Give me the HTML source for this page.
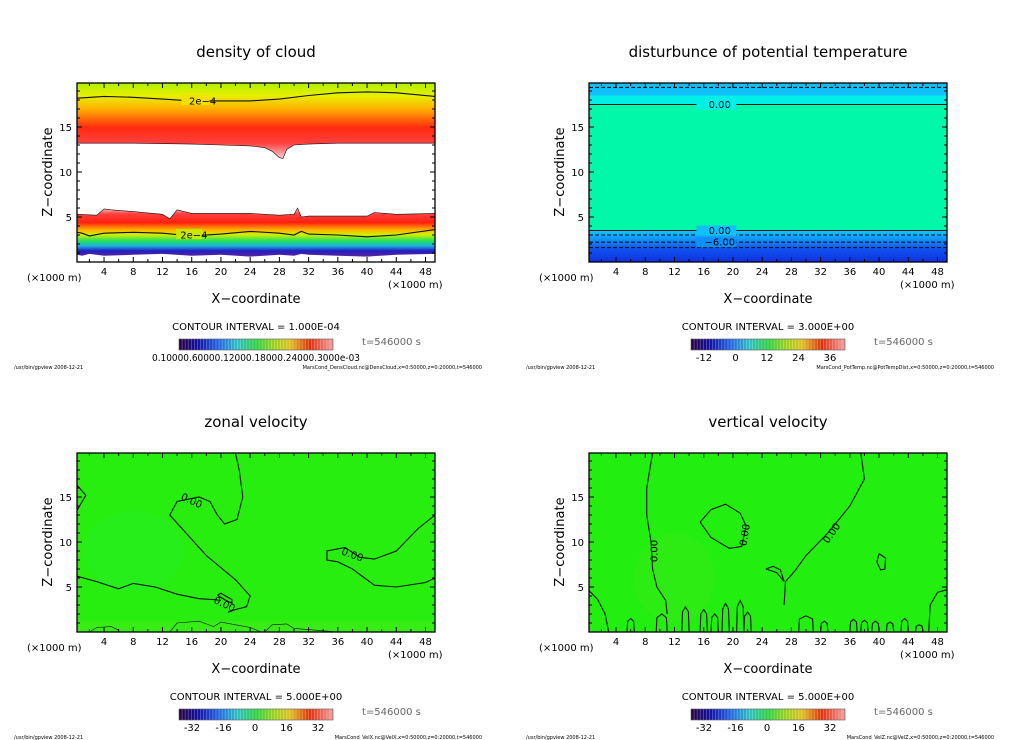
<!DOCTYPE html>
<html><head><meta charset="utf-8"><style>
html,body{margin:0;padding:0;background:#fff;}
svg{display:block;font-family:"DejaVu Sans","Liberation Sans",sans-serif;}
</style></head><body>
<svg id="fig" width="1024" height="740" viewBox="0 0 1024 740" xmlns="http://www.w3.org/2000/svg">
<defs>
<linearGradient id="cb" x1="0" x2="1" y1="0" y2="0">
<stop offset="0" stop-color="#2a0040"/><stop offset="0.12" stop-color="#1010a0"/><stop offset="0.25" stop-color="#2060e0"/><stop offset="0.38" stop-color="#30c0c0"/><stop offset="0.5" stop-color="#30d040"/><stop offset="0.62" stop-color="#a0d020"/><stop offset="0.72" stop-color="#e0c020"/><stop offset="0.85" stop-color="#e03010"/><stop offset="1" stop-color="#f0a0a0"/>
</linearGradient>
<linearGradient id="cloudTop" x1="0" x2="0" y1="0" y2="1">
<stop offset="0" stop-color="#a8f000"/><stop offset="0.18" stop-color="#e8f000"/><stop offset="0.35" stop-color="#ffb000"/><stop offset="0.6" stop-color="#ff2a10"/><stop offset="0.8" stop-color="#ff4040"/><stop offset="1" stop-color="#ffd0d0"/>
</linearGradient>
<linearGradient id="cloudBot" x1="0" x2="0" y1="0" y2="1">
<stop offset="0" stop-color="#ffd0d0"/><stop offset="0.12" stop-color="#ff4040"/><stop offset="0.3" stop-color="#ff2010"/><stop offset="0.45" stop-color="#ffb000"/><stop offset="0.55" stop-color="#d0f000"/><stop offset="0.68" stop-color="#20e060"/><stop offset="0.78" stop-color="#20b0e0"/><stop offset="0.88" stop-color="#2020c0"/><stop offset="1" stop-color="#6020a0"/>
</linearGradient>
<linearGradient id="ptBot" x1="0" x2="0" y1="0" y2="1">
<stop offset="0" stop-color="#10c8ff"/><stop offset="0.3" stop-color="#1090ff"/><stop offset="0.6" stop-color="#1050f0"/><stop offset="1" stop-color="#1030e0"/>
</linearGradient>
</defs>
</svg>
<script>
// ---- data ----
const xTicks = [4,8,12,16,20,24,28,32,36,40,44,48];
const zTicks = [5,10,15];
const cloudTopLineX = [0.3,4,8,12,16,20,24,28,32,36,40,44,49.3];
const cloudTopLineZ = [18.2,18.4,18.3,18.1,17.9,17.9,17.9,18.1,18.5,18.8,18.9,18.8,18.4];
const cloudUpperBaseX = [0.3,8,16,20,24,26,27,28,28.5,29,30,32,36,44,49.3];
const cloudUpperBaseZ = [13.2,13.2,13.1,13.0,12.9,12.7,12.3,11.6,11.5,12.5,13.0,13.1,13.2,13.2,13.2];
const cloudLowTopX = [0.3,3,4,5,8,12,13,14,16,20,24,28,30,30.5,31,32,36,40,41,44,49.3];
const cloudLowTopZ = [5.3,5.2,5.9,5.8,5.6,5.3,4.8,5.8,5.4,5.4,5.4,5.2,5.3,6.0,5.0,5.1,5.1,5.1,5.5,5.3,5.4];
const cloudLowLineX = [0.3,1,2,4,8,12,16,20,24,28,30,31,32,36,40,44,49.3];
const cloudLowLineZ = [3.3,3.2,2.9,3.2,3.3,3.2,2.9,3.1,3.4,3.2,3.0,3.4,3.1,3.0,2.8,3.0,3.6];
const cloudLowBaseZ = [0.8,0.7,0.9,0.7,0.8,0.9,0.7,0.8,0.6,0.8,0.7,0.9,0.8,0.7,0.6,0.8,0.9];
const ptLines = [19.4,17.5,3.5,3.0,2.2,1.6];
const ptDashed = [true,false,false,true,true,true];
const uLine1 = [[0.3,16.3],[1.5,15.2],[0.3,13.5]];
const uLine2 = [[22,19.9],[22.5,18],[23,15],[22.2,12.5],[20.5,12],[19.5,13],[18.5,14.5],[17,15],[14,14.5],[13,13],[15,11.2],[18,8.5],[22,5.8],[24,4],[23.5,2.8],[22,2.5],[21,2.2]];
const uLine3 = [[0.3,6.2],[3,5.6],[6,4.8],[8,5.4],[11,5],[14,4.2],[17,3.7],[19,3.6],[20,3.5]];
const uLine4 = [[49.3,19.9],[49.3,17]];
const uLine5 = [[49.3,13],[47,11.5],[44,9],[41,8.1],[39,8.3],[37,9.4],[34.5,9],[34.5,8],[36,7.8],[38,7],[41,5.2],[44,5],[48,5.5],[49.3,6]];
const uBlob = [[19.5,4.1],[20.5,3.6],[21.5,3.2],[21.5,3.6],[20,4.3],[19.5,4.1]];
const uSurf = [[2,0],[3,0.5],[5,0.6],[6,0.2]];
const uSurf2 = [[13,0],[14,1],[17,1.2],[19,0.6],[20,1.1],[22,0.8],[24,0.5],[25.5,0]];
const uSurf3 = [[26,0],[27,0.8],[29,0.9],[30,0.4],[33,0.2],[36,0]];
const wLine1 = [[9,19.9],[8.2,16],[8.2,13],[8.8,10],[9,7],[9.6,5],[10.8,3.5],[11,2]];
const wLine2 = [[37.5,19.9],[38,17],[36,14],[33,11],[30,8.5],[28.5,6.8],[27.2,5.6],[27,3]];
const wLoop1 = [[15.5,12.2],[17,13.6],[19,14.2],[21,13.2],[21.8,11.8],[21.2,9.5],[19.5,9.3],[17,10.5],[15.5,12.2]];
const wLoop2 = [[24.5,7],[26,6.6],[27,5.6],[26.5,6.9],[25.5,7.3],[24.5,7]];
const wLoop3 = [[40,8.7],[40.9,8.2],[40.8,7],[40.2,6.9],[39.7,7.8],[40,8.7]];
const wLine3 = [[0.3,4.6],[1.5,3.6],[2.5,2],[3,0]];
const wLine4 = [[49.3,4.7],[48,4.4],[47,3],[46.8,0]];
const wBumps = [[5.5,6.5,1.5],[9.5,11,2],[13,14,2.8],[15.5,16.5,2.5],[17,18,2],[18.5,19.5,3.2],[20.5,21.5,3.5],[21.5,22.5,2.2],[29,31,1.8],[32,33,1.2],[36,37,1.4],[37.5,38.5,1.3],[39,40,1.2],[41,42,1.1],[43,44,1.5],[45,46,0.8]];
const cbLabelsTR = ["-12","0","12","24","36"];
const cbLabelsV = ["-32","-16","0","16","32"];

// ---- helpers ----
const NS = "http://www.w3.org/2000/svg";
const svg = document.getElementById('fig');
const X0 = 0.3, X1 = 49.3, PX0 = 77, PX1 = 435;
function xs(v, ox){ return ox + PX0 + (v - X0) * (PX1 - PX0) / (X1 - X0); }
function zs(v, oy){ return oy + 262 - v * 9; }
function mk(tag, attrs, parent){ const e = document.createElementNS(NS, tag); for (const k in attrs) e.setAttribute(k, attrs[k]); (parent||svg).appendChild(e); return e; }
function txt(s, x, y, size, anchor, parent){ const t = mk('text', {x:x, y:y, 'font-size':size, 'text-anchor':anchor||'middle', fill:'#000'}, parent); t.textContent = s; return t; }
function lineD(pts, ox, oy){ return pts.map((p,i)=>(i?'L':'M')+xs(p[0],ox).toFixed(1)+','+zs(p[1],oy).toFixed(1)).join(''); }
function zip(a,b){ return a.map((v,i)=>[v,b[i]]); }

function panel(ox, oy, title, name, ci, cbl, file){
  const g = mk('g', {});
  
  
  const clip = mk('clipPath', {id:'clip-'+name}, svg);
  mk('rect', {x:ox+PX0, y:oy+83, width:PX1-PX0, height:179}, clip);
  const field = mk('g', {'clip-path':'url(#clip-'+name+')'}, g);
  
  
  const t = txt(title, ox+256, oy+57, 15, 'middle', g);
  
  
  const xl = txt('X\u2212coordinate', ox+256, oy+303, 13, 'middle', g);
  
  
  const zl = txt('Z\u2212coordinate', 0, 0, 13, 'middle', g);
  zl.setAttribute('transform', 'translate('+(ox+52)+','+(oy+172)+') rotate(-90)');
  
  
  txt('(\u00d71000 m)', ox+27, oy+281, 10, 'start', g);
  txt('(\u00d71000 m)', ox+388, oy+288, 10, 'start', g);
  xTicks.forEach(v=>{ const tl = txt(String(v), xs(v,ox), oy+275, 10, 'middle', g);   });
  zTicks.forEach(v=>{ const tl = txt(String(v), ox+72, zs(v,oy)+4, 10, 'end', g);   });
  const cit = txt('CONTOUR INTERVAL = '+ci, ox+256, oy+330, 10, 'middle', g);
  
  
  const cb = mk('rect', {x:ox+179, y:oy+339, width:154, height:11, fill:'url(#cb)', stroke:'#555', 'stroke-width':0.6}, g);
  
  
  for (let i=1;i<50;i++) mk('line', {x1:ox+179+i*154/50, x2:ox+179+i*154/50, y1:oy+339, y2:oy+350, stroke:'rgba(255,255,255,0.35)', 'stroke-width':0.7}, g);
  cbl.forEach((s,i)=>{ const n=cbl.length; const tl = txt(s, ox+192+i*(126/(n-1)), oy+361, 10, 'middle', g);   });
  const tt = txt('t=546000 s', ox+362, oy+345, 10, 'start', g);
  tt.setAttribute('fill', '#666');
  txt('/usr/bin/gpview   2008-12-21', ox+14, oy+369, 5, 'start', g);
  txt(file, ox+482, oy+369, 5, 'end', g);
  return {g:g, field:field};
}
function frame(p, ox, oy){
  const g = p.g;
  const fr = mk('rect', {x:ox+PX0, y:oy+83, width:PX1-PX0, height:179, fill:'none', stroke:'#000', 'stroke-width':1.3}, g);
  
  
  for (let v=2; v<=48; v+=2){ const L = v%4===0?5:3; const x=xs(v,ox);
    mk('line',{x1:x,x2:x,y1:oy+262,y2:oy+262-L,stroke:'#000'},g); mk('line',{x1:x,x2:x,y1:oy+83,y2:oy+83+L,stroke:'#000'},g); }
  for (let v=1; v<=19; v++){ const L = v%5===0?5:3; const y=zs(v,oy);
    mk('line',{x1:ox+PX0,x2:ox+PX0+L,y1:y,y2:y,stroke:'#000'},g); mk('line',{x1:ox+PX1,x2:ox+PX1-L,y1:y,y2:y,stroke:'#000'},g); }
}
function contour(parent, pts, ox, oy, name, dash){
  const p = mk('path', {d:lineD(pts,ox,oy), fill:'none', stroke:'#111', 'stroke-width':1.1}, parent);
  if (dash) p.setAttribute('stroke-dasharray','4,2');
  
  
  return p;
}
function label(parent, s, x, z, ox, oy, rot){
  const t = mk('text', {x:xs(x,ox), y:zs(z,oy)+3.5, 'font-size':10, 'text-anchor':'middle', fill:'#000'}, parent);
  if (rot) t.setAttribute('transform','rotate('+rot+' '+xs(x,ox)+' '+zs(z,oy)+')');
  t.textContent = s;
  
  
}

// ---- panel 1: cloud ----
(function(){
  const ox=0, oy=0;
  const p = panel(ox, oy, 'density of cloud', 'cloud-panel', '1.000E-04', [], 'MarsCond_DensCloud.nc@DensCloud,x=0:50000,z=0:20000,t=546000');
  const f = p.field;
  mk('rect',{x:ox+PX0,y:oy+83,width:PX1-PX0,height:179,fill:'#fff'},f);
  const up = zip(cloudUpperBaseX, cloudUpperBaseZ);
  const topBand = mk('path',{d:lineD([[X0,20]].concat([[X1,20]]).concat(up.slice().reverse()),ox,oy)+'Z', fill:'url(#cloudTop)'},f);
  
  
  const lowTop = zip(cloudLowTopX, cloudLowTopZ);
  const lowBase = zip(cloudLowLineX, cloudLowBaseZ);
  const lowBand = mk('path',{d:lineD(lowTop.concat(lowBase.slice().reverse()),ox,oy)+'Z', fill:'url(#cloudBot)'},f);
  
  
  contour(f, zip(cloudTopLineX,cloudTopLineZ), ox, oy, 'contour-2e-4-top');
  contour(f, up, ox, oy, 'contour-upper-base').setAttribute('stroke-width','0.6');
  contour(f, lowTop, ox, oy, 'contour-lower-top').setAttribute('stroke-width','0.6');
  contour(f, zip(cloudLowLineX,cloudLowLineZ), ox, oy, 'contour-2e-4-low');
  mk('rect',{x:xs(15,ox)-3,y:zs(18,oy)-5,width:28,height:10,fill:'#f2e000'},f);
  label(f,'2e\u22124',17.5,17.9,ox,oy);
  mk('rect',{x:xs(14,ox)-1,y:zs(3.1,oy)-5,width:26,height:10,fill:'#c8e800'},f);
  label(f,'2e\u22124',16.3,3.0,ox,oy);
  frame(p, ox, oy);
  const t2 = txt('0.10000.60000.12000.18000.24000.3000e-03', 152, 361, 10, 'start', p.g);
  t2.setAttribute('textLength','208'); t2.setAttribute('lengthAdjust','spacingAndGlyphs');
  
  
})();

// ---- panel 2: potential temperature ----
(function(){
  const ox=512, oy=0;
  const p = panel(ox, oy, 'disturbunce of potential temperature', 'ptemp-panel', '3.000E+00', cbLabelsTR, 'MarsCond_PotTemp.nc@PotTempDist,x=0:50000,z=0:20000,t=546000');
  const f = p.field;
  mk('rect',{x:ox+PX0,y:oy+83,width:PX1-PX0,height:179,fill:'#00f8a8'},f);
  mk('rect',{x:ox+PX0,y:zs(20,oy),width:PX1-PX0,height:zs(18.5,oy)-zs(20,oy),fill:'#10c0f8'},f);
  mk('rect',{x:ox+PX0,y:zs(18.5,oy),width:PX1-PX0,height:zs(17.5,oy)-zs(18.5,oy),fill:'#00f0e8'},f);
  const b = mk('rect',{x:ox+PX0,y:zs(3.5,oy),width:PX1-PX0,height:zs(0,oy)-zs(3.5,oy),fill:'url(#ptBot)'},f);
  
  
  ptLines.forEach((z,i)=>contour(f, [[X0,z],[X1,z]], ox, oy, 'contour-level', ptDashed[i]));
  mk('rect',{x:xs(15,ox),y:zs(17.5,oy)-5,width:40,height:10,fill:'#00f0e8'},f);
  label(f,'0.00',18.2,17.5,ox,oy);
  mk('rect',{x:xs(15,ox),y:zs(3.5,oy)-5,width:40,height:10,fill:'#10c0f8'},f);
  label(f,'0.00',18.2,3.5,ox,oy);
  mk('rect',{x:xs(15,ox),y:zs(2.2,oy)-5,width:40,height:10,fill:'#1090ff'},f);
  label(f,'\u22126.00',18.2,2.2,ox,oy);
  frame(p, ox, oy);
})();

// ---- panel 3: zonal velocity ----
(function(){
  const ox=0, oy=370;
  const p = panel(ox, oy, 'zonal velocity', 'zonal-velocity-panel', '5.000E+00', cbLabelsV, 'MarsCond_VelX.nc@VelX,x=0:50000,z=0:20000,t=546000');
  const f = p.field;
  mk('rect',{x:ox+PX0,y:oy+83,width:PX1-PX0,height:179,fill:'#28ee10'},f);
  mk('ellipse',{cx:xs(8,ox),cy:zs(9,oy),rx:50,ry:40,fill:'#22ee30',opacity:0.35},f);
  mk('rect',{x:ox+PX0,y:zs(1.2,oy),width:PX1-PX0,height:11,fill:'#50e820',opacity:0.4},f);
  [uLine1,uLine2,uLine3,uLine4,uLine5,uBlob].forEach(l=>contour(f,l,ox,oy,'contour-0'));
  [uSurf,uSurf2,uSurf3].forEach(l=>contour(f,l,ox,oy,'contour-surface').setAttribute('stroke-width','0.6'));
  label(f,'0.00',16,14.6,ox,oy,25);
  label(f,'0.00',38,8.6,ox,oy,20);
  label(f,'0.00',20.5,3.1,ox,oy,25);
  frame(p, ox, oy);
})();

// ---- panel 4: vertical velocity ----
(function(){
  const ox=512, oy=370;
  const p = panel(ox, oy, 'vertical velocity', 'vertical-velocity-panel', '5.000E+00', cbLabelsV, 'MarsCond_VelZ.nc@VelZ,x=0:50000,z=0:20000,t=546000');
  const f = p.field;
  mk('rect',{x:ox+PX0,y:oy+83,width:PX1-PX0,height:179,fill:'#22ee10'},f);
  mk('ellipse',{cx:xs(12,ox),cy:zs(6,oy),rx:40,ry:45,fill:'#50e820',opacity:0.25},f);
  [wLine1,wLine2,wLoop1,wLoop2,wLoop3,wLine3,wLine4].forEach(l=>contour(f,l,ox,oy,'contour-0'));
  wBumps.forEach(b=>{
    const m=(b[0]+b[1])/2;
    contour(f,[[b[0],0],[b[0]+0.1,b[2]*0.8],[m,b[2]],[b[1]-0.1,b[2]*0.8],[b[1],0]],ox,oy,'contour-bump');
  });
  label(f,'0.00',9.2,9,ox,oy,-90);
  label(f,'0.00',21.6,10.8,ox,oy,-80);
  label(f,'0.00',33.5,11,ox,oy,-55);
  frame(p, ox, oy);
})();
</script>
</body></html>
